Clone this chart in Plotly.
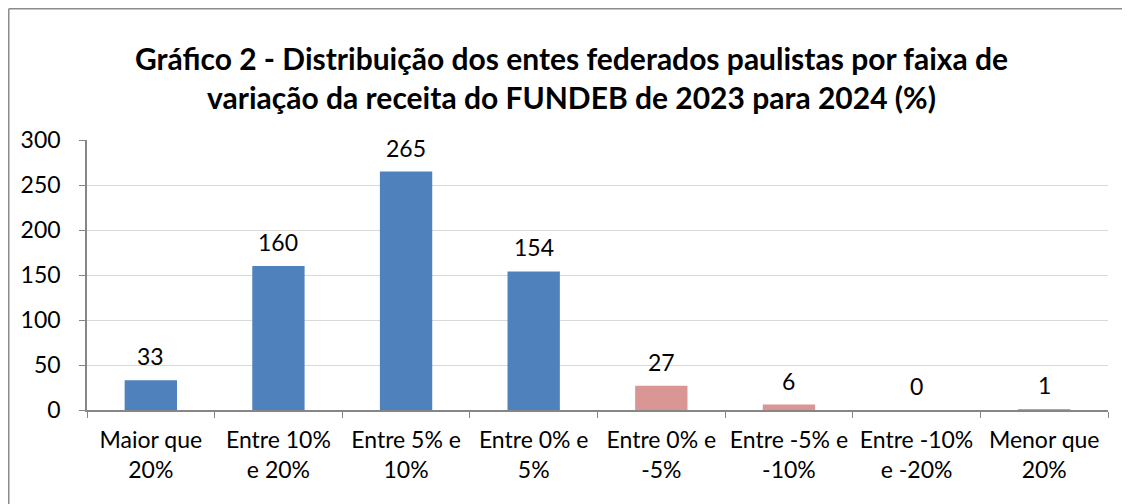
import plotly.graph_objects as go

categories = ["Maior que<br>20%", "Entre 10%<br>e 20%", "Entre 5% e<br>10%", "Entre 0% e<br>5%",
              "Entre 0% e<br>-5%", "Entre -5% e<br>-10%", "Entre -10%<br>e -20%", "Menor que<br>20%"]
values = [33, 160, 265, 154, 27, 6, 0, 1]
colors = ["#4F81BD"] * 4 + ["#D99694"] * 4
y_ticks = [0, 50, 100, 150, 200, 250, 300]

FONT = "Lato, 'Open Sans', sans-serif"

# page has an 8px body margin: figure sits at (8, 8)
W, H = 1122, 496
L, R, T, B = 79, 22, 132, 94
pw, ph = W - L - R, H - T - B

fig = go.Figure(go.Bar(
    x=categories, y=values, marker_color=colors, marker_line_width=0,
    hoverinfo="x+y",
))

for c, v in zip(categories, values):
    fig.add_annotation(x=c, y=v, text=str(v), showarrow=False, yanchor="middle",
                       yshift=24, font=dict(size=23, color="#000000", family=FONT))

bx0 = (0.75 - L) / pw
by1 = 1 + (T - 0.75) / ph
border = dict(color="#8C8C8C", width=1.5)

fig.update_layout(
    width=W, height=H,
    margin=dict(l=L, r=R, t=T, b=B, autoexpand=False),
    paper_bgcolor="white", plot_bgcolor="white",
    bargap=0.59,
    font=dict(family=FONT, size=23, color="#000000"),
    title=dict(
        text="<b>Gráfico 2 - Distribuição dos entes federados paulistas por faixa de<br>variação da receita do FUNDEB de 2023 para 2024 (%)</b>",
        x=563.5 / W, xanchor="center", y=1 - 62 / H, yanchor="middle",
        font=dict(size=30, family=FONT, color="#000000"),
    ),
    showlegend=False,
    shapes=[
        dict(type="line", xref="paper", yref="paper", x0=bx0, x1=(W - L) / pw,
             y0=by1, y1=by1, line=border, layer="below"),
        dict(type="line", xref="paper", yref="paper", x0=bx0, x1=bx0,
             y0=-B / ph, y1=by1, line=border, layer="below"),
    ],
)
fig.update_xaxes(
    showline=True, linecolor="#868686", linewidth=1.5,
    ticks="outside", ticklen=6, tickcolor="#868686", tickson="boundaries",
    tickfont=dict(size=23), tickangle=0, showgrid=False, ticklabelstandoff=9,
)
fig.update_yaxes(
    range=[0, 300], tickvals=y_ticks, showline=True, linecolor="#868686", linewidth=1.5,
    ticks="outside", ticklen=6, tickcolor="#868686",
    showgrid=True, gridcolor="#D9D9D9", gridwidth=1, zeroline=False,
    tickfont=dict(size=23), ticklabelstandoff=14,
)

fig.write_html("out.html")
